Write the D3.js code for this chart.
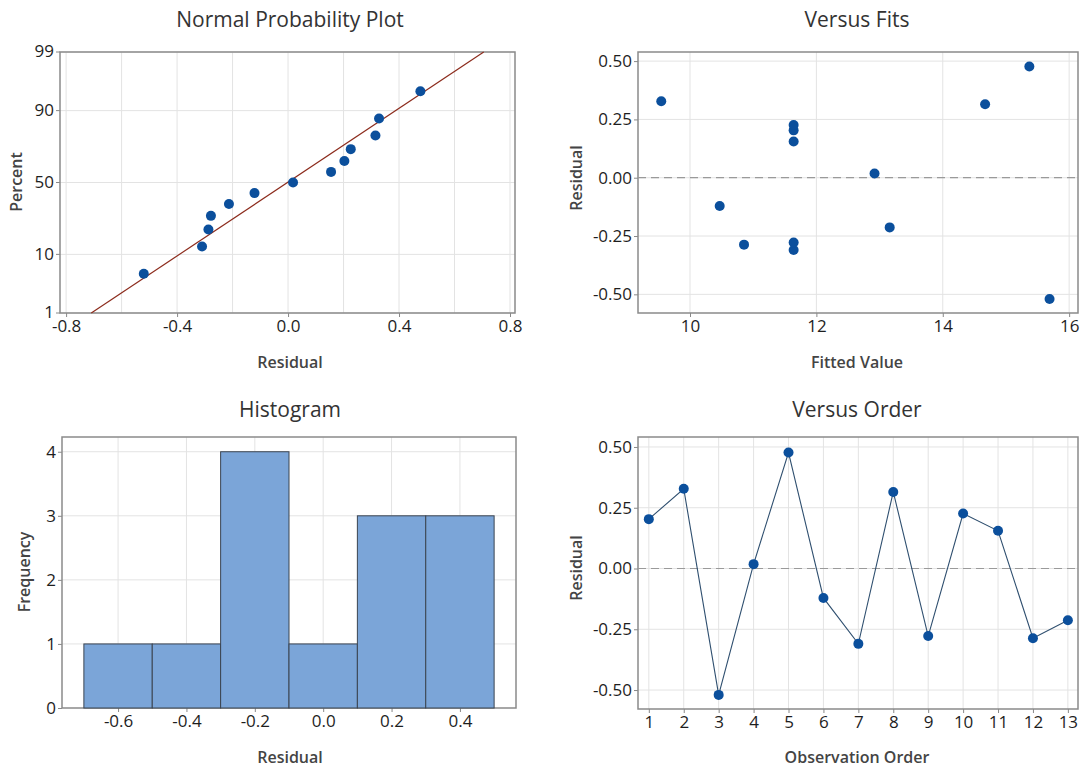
<!DOCTYPE html>
<html>
<head>
<meta charset="utf-8">
<script src="https://cdn.jsdelivr.net/npm/d3@7"></script>
<style>
  body { margin: 0; background: #fff; }
  svg { font-family: "Open Sans", "Noto Sans", sans-serif; }
  .title { font-size: 21px; fill: #333; }
  .aLabel { font-size: 16px; fill: #444; font-weight: 600; }
  .axis line { stroke: #888; }
  .domain { display: none; }
  .grid line { stroke: #e3e3e3; }
  .frame { fill: none; stroke: #8a8a8a; stroke-width: 1.5; }
</style>
</head>
<body>
<div id="chart"></div>
<script>
// residuals in observation order
var residuals = [0.203, 0.328, -0.520, 0.018, 0.477, -0.121, -0.310, 0.315, -0.278, 0.226, 0.155, -0.287, -0.213];
var fits = [11.64, 9.545, 15.69, 12.92, 15.37, 10.47, 11.64, 14.67, 11.64, 11.64, 11.64, 10.855, 13.16];
var order = [1, 2, 3, 4, 5, 6, 7, 8, 9, 10, 11, 12, 13];

// normal probability plot (sorted residual vs percent)
var sortedResid = [-0.520, -0.310, -0.287, -0.278, -0.213, -0.121, 0.018, 0.155, 0.203, 0.226, 0.315, 0.328, 0.477];
var percents = [5.2, 12.7, 20.1, 27.6, 35.1, 42.5, 50.0, 57.5, 64.9, 72.4, 79.9, 87.3, 94.8];
var lineMean = -0.002;
var lineSd = 0.304;

// histogram bins
var binStart = [-0.7, -0.5, -0.3, -0.1, 0.1, 0.3];
var binEnd = [-0.5, -0.3, -0.1, 0.1, 0.3, 0.5];
var binCount = [1, 1, 4, 1, 3, 3];

var probTicks = [1, 10, 50, 90, 99];
var residTicksX = [-0.8, -0.4, 0.0, 0.4, 0.8];
var residGridX = [-0.8, -0.6, -0.4, -0.2, 0.0, 0.2, 0.4, 0.6, 0.8];
var residTicksY = [-0.50, -0.25, 0.00, 0.25, 0.50];
var fitTicks = [10, 12, 14, 16];
var histTicksX = [-0.6, -0.4, -0.2, 0.0, 0.2, 0.4];
var freqTicks = [0, 1, 2, 3, 4];

var svgWidth = 1084;
var svgHeight = 774;
var tickFont = "17px 'Open Sans', 'Noto Sans', sans-serif";

var svg = d3.select("#chart").append("svg")
  .attr("width", svgWidth)
  .attr("height", svgHeight);

// plain hyphen minus like the original
function fmt(spec) {
  var f = d3.format(spec);
  return d => f(d).replace("\u2212", "-");
}

function styleTicks(sel) {
  sel.selectAll("text").style("font", tickFont).style("fill", "#1e1e1e");
}

// inverse normal cdf (Acklam)
function probit(p) {
  var a = [-39.69683028665376, 220.9460984245205, -275.9285104469687, 138.3577518672690, -30.66479806614716, 2.506628277459239];
  var b = [-54.47609879822406, 161.5858368580409, -155.6989798598866, 66.80131188771972, -13.28068155288572];
  var c = [-0.007784894002430293, -0.3223964580411365, -2.400758277161838, -2.549732539343734, 4.374664141464968, 2.938163982698783];
  var d = [0.007784695709041462, 0.3224671290700398, 2.445134137142996, 3.754408661907416];
  var q, r;
  if (p < 0.02425) {
    q = Math.sqrt(-2 * Math.log(p));
    return (((((c[0]*q+c[1])*q+c[2])*q+c[3])*q+c[4])*q+c[5]) / ((((d[0]*q+d[1])*q+d[2])*q+d[3])*q+1);
  } else if (p > 1 - 0.02425) {
    q = Math.sqrt(-2 * Math.log(1 - p));
    return -(((((c[0]*q+c[1])*q+c[2])*q+c[3])*q+c[4])*q+c[5]) / ((((d[0]*q+d[1])*q+d[2])*q+d[3])*q+1);
  }
  q = p - 0.5; r = q * q;
  return (((((a[0]*r+a[1])*r+a[2])*r+a[3])*r+a[4])*r+a[5])*q / (((((b[0]*r+b[1])*r+b[2])*r+b[3])*r+b[4])*r+1);
}

function panel(box, xScale, yScale, xTicks, yTicks, xGrid, yGrid, yFmt, xFmt) {
  var g = svg.append("g");
  g.append("g").attr("class", "grid").selectAll("line")
    .data(xGrid).enter().append("line")
    .attr("x1", d => xScale(d)).attr("x2", d => xScale(d))
    .attr("y1", box.top).attr("y2", box.bottom);
  g.append("g").attr("class", "grid").selectAll("line")
    .data(yGrid).enter().append("line")
    .attr("x1", box.left).attr("x2", box.right)
    .attr("y1", d => yScale(d)).attr("y2", d => yScale(d));
  g.append("g").attr("class", "axis")
    .attr("transform", `translate(0, ${box.bottom})`)
    .call(d3.axisBottom(xScale).tickValues(xTicks).tickSize(4).tickPadding(3).tickFormat(xFmt))
    .call(styleTicks);
  g.append("g").attr("class", "axis")
    .attr("transform", `translate(${box.left}, 0)`)
    .call(d3.axisLeft(yScale).tickValues(yTicks).tickSize(4).tickPadding(2).tickFormat(yFmt))
    .call(styleTicks);
  g.append("rect").attr("class", "frame")
    .attr("x", box.left).attr("y", box.top)
    .attr("width", box.right - box.left).attr("height", box.bottom - box.top);
  return g;
}

function labels(title, cx, titleY, xLab, xLabY, yLab, yLabX, yLabY) {
  svg.append("text").attr("class", "title").attr("text-anchor", "middle")
    .attr("x", cx).attr("y", titleY).text(title);
  svg.append("text").attr("class", "aLabel").attr("text-anchor", "middle")
    .attr("x", cx).attr("y", xLabY).text(xLab);
  svg.append("text").attr("class", "aLabel").attr("text-anchor", "middle")
    .attr("transform", `translate(${yLabX}, ${yLabY}) rotate(-90)`).text(yLab);
}

var dotColor = "#0b4f9c";
var dotR = 5;

// ---- Normal Probability Plot
var b1 = {left: 60, right: 515, top: 52, bottom: 313};
var x1 = d3.scaleLinear().domain([-0.822, 0.818]).range([b1.left, b1.right]);
var y1 = d3.scaleLinear().domain([probit(0.01), probit(0.99)]).range([b1.bottom, b1.top]);
var yP = p => y1(probit(p / 100));
var g1 = svg.append("g");
g1.append("g").attr("class", "grid").selectAll("line")
  .data(residGridX).enter().append("line")
  .attr("x1", d => x1(d)).attr("x2", d => x1(d))
  .attr("y1", b1.top).attr("y2", b1.bottom);
g1.append("g").attr("class", "grid").selectAll("line")
  .data(probTicks).enter().append("line")
  .attr("x1", b1.left).attr("x2", b1.right)
  .attr("y1", d => yP(d)).attr("y2", d => yP(d));
g1.append("g").attr("class", "axis")
  .attr("transform", `translate(0, ${b1.bottom})`)
  .call(d3.axisBottom(x1).tickValues(residTicksX).tickSize(4).tickPadding(3).tickFormat(fmt(".1f")))
  .call(styleTicks);
var yAx1 = g1.append("g").attr("class", "axis").attr("transform", `translate(${b1.left}, 0)`);
yAx1.selectAll("g").data(probTicks).enter().append("g").attr("class", "tick")
  .each(function(d) {
    var t = d3.select(this);
    t.append("line").attr("x1", -4).attr("x2", 0).attr("y1", yP(d)).attr("y2", yP(d));
    t.append("text").attr("x", -6).attr("y", yP(d)).attr("dy", "0.32em")
      .attr("text-anchor", "end").text(d);
  });
yAx1.call(styleTicks);
g1.append("rect").attr("class", "frame")
  .attr("x", b1.left).attr("y", b1.top)
  .attr("width", b1.right - b1.left).attr("height", b1.bottom - b1.top);
g1.append("line")
  .attr("x1", x1(lineMean + lineSd * probit(0.01))).attr("y1", yP(1))
  .attr("x2", x1(lineMean + lineSd * probit(0.99))).attr("y2", yP(99))
  .attr("stroke", "#8c2b1c").attr("stroke-width", 1.2);
g1.selectAll("circle").data(sortedResid).enter().append("circle")
  .attr("cx", d => x1(d))
  .attr("cy", (d, i) => yP(percents[i]))
  .attr("r", dotR).attr("fill", dotColor);
labels("Normal Probability Plot", 290, 27, "Residual", 368, "Percent", 22, 182);

// ---- Versus Fits
var b2 = {left: 638, right: 1078, top: 52, bottom: 313};
var x2 = d3.scaleLinear().domain([9.177, 16.14]).range([b2.left, b2.right]);
var y2 = d3.scaleLinear().domain([-0.580, 0.539]).range([b2.bottom, b2.top]);
var g2 = panel(b2, x2, y2, fitTicks, residTicksY, fitTicks, residTicksY, fmt(".2f"), fmt("d"));
g2.append("line")
  .attr("x1", b2.left).attr("x2", b2.right)
  .attr("y1", y2(0)).attr("y2", y2(0))
  .attr("stroke", "#9a9a9a").attr("stroke-width", 1.2).attr("stroke-dasharray", "8,5");
g2.selectAll("circle").data(residuals).enter().append("circle")
  .attr("cx", (d, i) => x2(fits[i]))
  .attr("cy", d => y2(d))
  .attr("r", dotR).attr("fill", dotColor);
labels("Versus Fits", 857, 27, "Fitted Value", 368, "Residual", 582, 178);

// ---- Histogram
var b3 = {left: 62, right: 516, top: 437, bottom: 708};
var x3 = d3.scaleLinear().domain([-0.764, 0.564]).range([b3.left, b3.right]);
var y3 = d3.scaleLinear().domain([0, 4.23]).range([b3.bottom, b3.top]);
var g3 = panel(b3, x3, y3, histTicksX, freqTicks, histTicksX, freqTicks.slice(1), fmt("d"), fmt(".1f"));
g3.selectAll("rect.bar").data(binCount).enter().append("rect")
  .attr("class", "bar")
  .attr("x", (d, i) => x3(binStart[i]))
  .attr("width", (d, i) => x3(binEnd[i]) - x3(binStart[i]))
  .attr("y", d => y3(d))
  .attr("height", d => y3(0) - y3(d))
  .attr("fill", "#7ba5d8").attr("stroke", "#3b4450").attr("stroke-width", 1);
labels("Histogram", 290, 417, "Residual", 763, "Frequency", 30, 572);

// ---- Versus Order
var b4 = {left: 638, right: 1078, top: 437, bottom: 709};
var x4 = d3.scaleLinear().domain([0.69, 13.29]).range([b4.left, b4.right]);
var y4 = d3.scaleLinear().domain([-0.578, 0.541]).range([b4.bottom, b4.top]);
var g4 = panel(b4, x4, y4, order, residTicksY, order, residTicksY, fmt(".2f"), fmt("d"));
g4.append("line")
  .attr("x1", b4.left).attr("x2", b4.right)
  .attr("y1", y4(0)).attr("y2", y4(0))
  .attr("stroke", "#9a9a9a").attr("stroke-width", 1.2).attr("stroke-dasharray", "8,5");
g4.append("path")
  .datum(residuals)
  .attr("fill", "none").attr("stroke", "#2f4f6f").attr("stroke-width", 1.1)
  .attr("d", d3.line().x((d, i) => x4(order[i])).y(d => y4(d)));
g4.selectAll("circle").data(residuals).enter().append("circle")
  .attr("cx", (d, i) => x4(order[i]))
  .attr("cy", d => y4(d))
  .attr("r", dotR).attr("fill", dotColor);
labels("Versus Order", 857, 417, "Observation Order", 763, "Residual", 582, 568);
</script>
</body>
</html>
